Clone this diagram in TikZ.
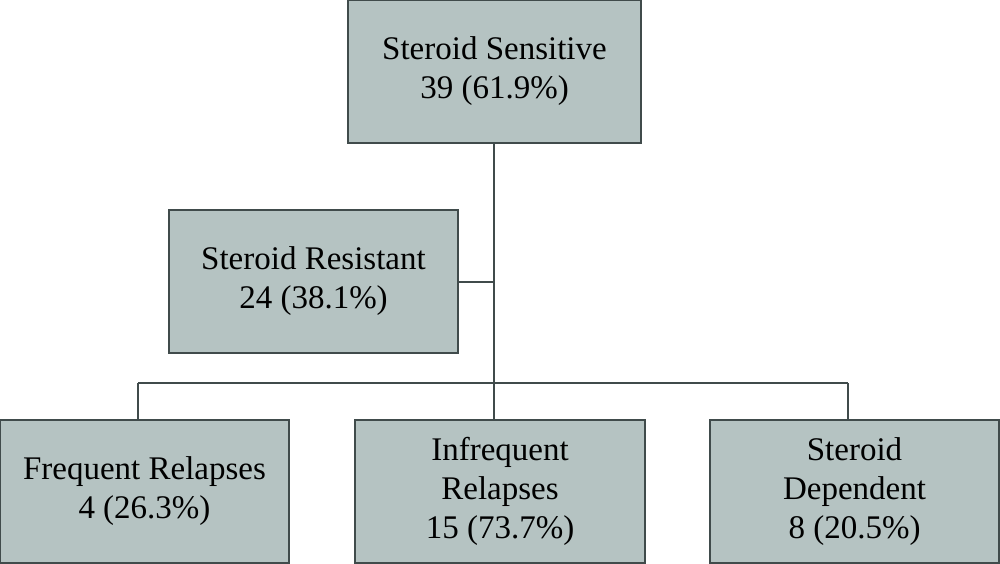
\documentclass[tikz,border=0pt]{standalone}
\usepackage{fontspec}
\setmainfont{Liberation Serif}
\definecolor{boxfill}{RGB}{181,195,194}
\definecolor{boxline}{RGB}{64,75,75}
\begin{document}
\begin{tikzpicture}[x=1pt,y=-1pt,
  box/.style={draw=boxline,fill=boxfill,line width=2pt,minimum height=143pt,inner sep=0pt,
    align=center,font=\fontsize{33}{39}\selectfont},
  conn/.style={draw=boxline,line width=2.4pt}]
\useasboundingbox (0,0) rectangle (1000,564);
\node[box,minimum width=293pt] (top) at (494.5,71.5) {Steroid Sensitive\\39 (61.9\%)};
\node[box,minimum width=289pt] (res) at (313.5,281.5) {Steroid Resistant\\24 (38.1\%)};
\node[box,minimum width=289pt] (fr) at (144.5,491.5) {Frequent Relapses\\4 (26.3\%)};
\node[box,minimum width=290pt] (ir) at (500,491.5) {Infrequent\\Relapses\\15 (73.7\%)};
\node[box,minimum width=289pt] (sd) at (854.5,491.5) {Steroid\\Dependent\\8 (20.5\%)};
\coordinate (b) at (494,282);
\coordinate (j) at (494,383);
\coordinate (jl) at (138,383);
\coordinate (jr) at (848,383);
\draw[conn] (top.south -| j) -- (j);
\draw[conn] (b) -- (res.east |- b);
\draw[conn] (jl) -- (jr);
\draw[conn] (jl) -- (jl |- fr.north);
\draw[conn] (j) -- (j |- ir.north);
\draw[conn] (jr) -- (jr |- sd.north);
\end{tikzpicture}
\end{document}
